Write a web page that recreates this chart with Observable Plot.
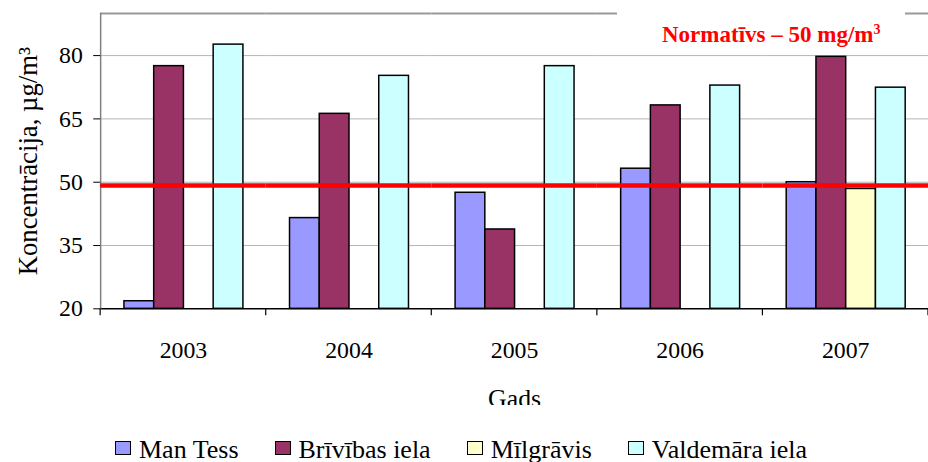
<!DOCTYPE html>
<html>
<head>
<meta charset="utf-8">
<script src="https://cdn.jsdelivr.net/npm/d3@7"></script>
<script src="https://cdn.jsdelivr.net/npm/@observablehq/plot@0.6"></script>
<style>
  html, body { margin: 0; padding: 0; background: #fff; overflow: hidden; }
  #wrap { position: relative; width: 928px; height: 462px; overflow: hidden; font-family: "Liberation Serif", "Times New Roman", serif; color: #000; }
  #chart { position: absolute; left: 0; top: 0; }
  #norm { position: absolute; left: 617px; top: 0; width: 288px; height: 55px; background: #fff; }
  #norm span { position: absolute; left: 45px; top: 23px; line-height: 1; font-size: 23px; font-weight: bold; color: #ff0000; white-space: nowrap; }
  #norm sup { font-size: 14px; vertical-align: 0.55em; line-height: 0; }
  #legend { position: absolute; left: 0; top: 405px; width: 928px; height: 57px; background: #fff; box-sizing: border-box; padding: 31.5px 0 0 115px; font-size: 26px; line-height: 26px; white-space: nowrap; }
  .item { display: inline-block; margin-right: 36px; }
  .sw { display: inline-block; width: 14px; height: 12px; border: 1.5px solid #000; margin-right: 8px; margin-bottom: 2.5px; vertical-align: baseline; }
</style>
</head>
<body>
<div id="wrap">
  <div id="chart"></div>
  <div id="norm"><span>Normatīvs – 50 mg/m<sup>3</sup></span></div>
  <div id="legend"></div>
</div>
<script>
// ---- data ----
const years = ["2003", "2004", "2005", "2006", "2007"];
const seriesNames = ["Man Tess", "Brīvības iela", "Mīlgrāvis", "Valdemāra iela"];
const seriesColors = ["#9999FF", "#993366", "#FFFFCC", "#CCFFFF"];
const manTess   = [21.8, 41.5, 47.5, 53.2, 50.0];
const brivibas  = [77.5, 66.2, 38.8, 68.2, 79.7];
const milgravis = [null, null, null, null, 48.4];
const valdemara = [82.6, 75.2, 77.5, 72.9, 72.4];
const yTicks = [20, 35, 50, 65, 80];
const yDomain = [20, 90];
const normValue = 49.2;
const yTitle = "Koncentrācija, µg/m³";
const xTitle = "Gads";

const seriesValues = [manTess, brivibas, milgravis, valdemara];
const rows = [];
years.forEach((yr, i) => {
  seriesNames.forEach((s, j) => {
    const v = seriesValues[j][i];
    if (v != null) rows.push({year: yr, series: s, value: v});
  });
});

const chart = Plot.plot({
  width: 936,
  height: 408,
  marginLeft: 101,
  marginRight: 0,
  marginTop: 13,
  marginBottom: 97,
  style: {fontFamily: "Liberation Serif, Times New Roman, serif", fontSize: "24px", background: "transparent", color: "#000"},
  fx: {domain: years, paddingInner: 0, paddingOuter: 0},
  x: {domain: seriesNames, paddingInner: 0, paddingOuter: 0.74, axis: null},
  y: {domain: yDomain},
  color: {domain: seriesNames, range: seriesColors},
  marks: [
    Plot.ruleY(yTicks.filter(t => t > yDomain[0]), {stroke: "#b4b4b4", strokeWidth: 1}),
    Plot.ruleY([yDomain[1]], {stroke: "#999999", strokeWidth: 2}),
    Plot.barY(rows, {fx: "year", x: "series", y1: yDomain[0], y2: "value", fill: "series", stroke: "#000", strokeWidth: 1.5, inset: 0}),
    Plot.ruleY([yDomain[0]], {stroke: "#000", strokeWidth: 1.5}),
    Plot.frame({anchor: "left", facet: "super", stroke: "#808080", strokeWidth: 1.5}),
    Plot.ruleY([normValue], {stroke: "#ff0000", strokeWidth: 4.5}),
    Plot.axisY({ticks: yTicks, tickSize: 7, tickPadding: 11, fontSize: 24, label: null}),
    Plot.axisY({ticks: [], fontSize: 27, label: yTitle, labelAnchor: "center", labelArrow: "none", labelOffset: 83}),
    Plot.axisFx({anchor: "bottom", tickSize: 0, tickPadding: 33, fontSize: 24, label: null}),
    Plot.axisFx({anchor: "bottom", ticks: [], fontSize: 26, label: xTitle, labelAnchor: "center", labelArrow: "none", labelOffset: 99})
  ]
});
document.getElementById("chart").appendChild(chart);

// band-boundary tick marks on the category axis, from the library's scales
const fx = chart.scale("fx");
const ys = chart.scale("y");
const svg = d3.select(chart);
const y0 = ys.apply(yDomain[0]);
const edges = years.map(y => fx.apply(y)).concat([fx.apply(years[years.length - 1]) + fx.bandwidth]);
svg.append("g").selectAll("line").data(edges).join("line")
  .attr("x1", d => d).attr("x2", d => d)
  .attr("y1", y0).attr("y2", y0 + 7)
  .attr("stroke", "#000").attr("stroke-width", 1.2);

// legend
const legend = d3.select("#legend");
seriesNames.forEach((s, i) => {
  const it = legend.append("span").attr("class", "item");
  it.append("span").attr("class", "sw").style("background", seriesColors[i]);
  it.append("span").text(s);
});
</script>
</body>
</html>
